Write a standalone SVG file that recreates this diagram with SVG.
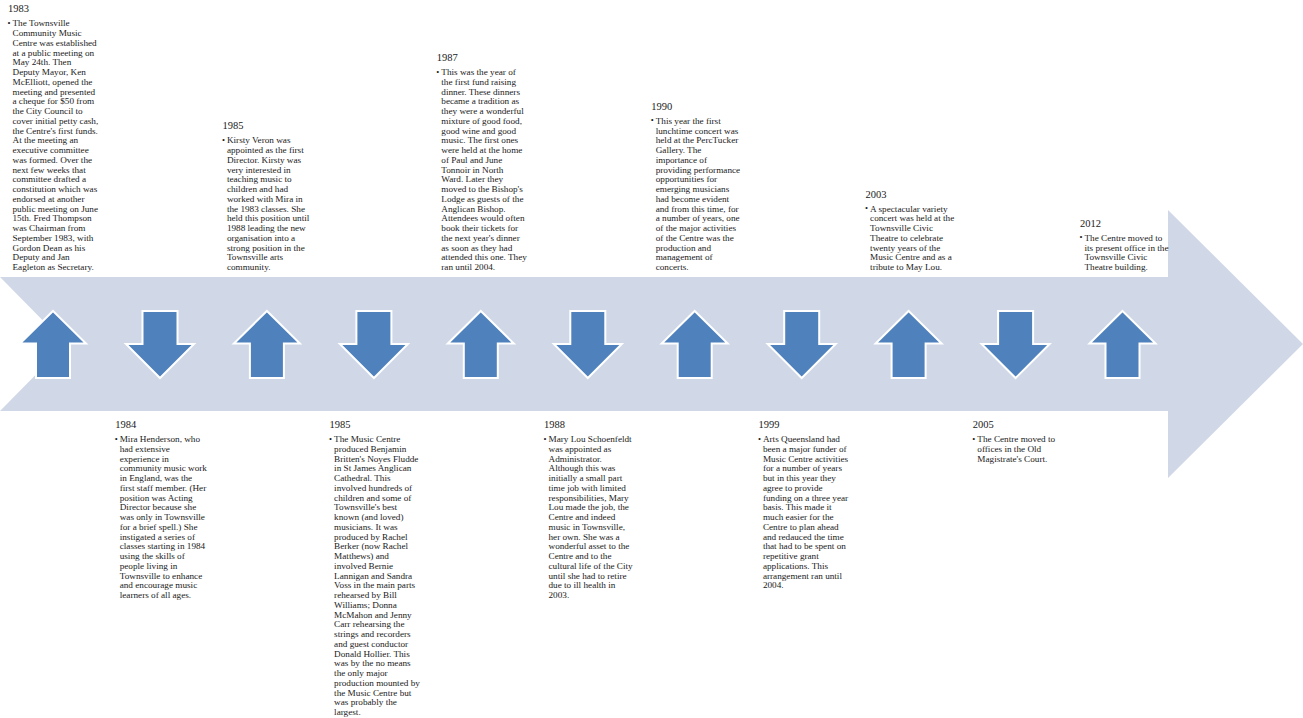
<svg xmlns="http://www.w3.org/2000/svg" xmlns:xlink="http://www.w3.org/1999/xlink" width="1303" height="718" viewBox="0 0 1303 718">
<style>
.h{font-family:"Liberation Serif","Times New Roman",serif;font-size:10.5px;fill:#1a1a1a}
.t{font-family:"Liberation Serif","Times New Roman",serif;font-size:9.2px;fill:#1a1a1a}
.b{font-family:"Liberation Serif","Times New Roman",serif;font-size:8.5px;fill:#1a1a1a}
.ar{fill:#4F81BD;stroke:#ffffff;stroke-width:2;stroke-linejoin:miter}
</style>
<defs>
<path id="up" class="ar" d="M0,311 L33,343.5 L17,343.5 L17,378 L-17,378 L-17,343.5 L-33,343.5 Z"/>
<path id="down" class="ar" d="M-17.5,311 L17.5,311 L17.5,344 L34,344 L0,378 L-34,344 L-17.5,344 Z"/>
</defs>
<rect width="1303" height="718" fill="#ffffff"/>
<g id="connectors">
<polygon id="timeline" points="0,277 1168,277 1168,210 1303,344 1168,478 1168,411 0,411 66,344" fill="#D0D8E8"/>
</g>

<g id="n1983">
<use xlink:href="#up" x="53"/>
<text class="h" x="8" y="12.25">1983</text>
<text class="b" x="7.5" y="25.75">•</text>
<text class="t" x="12.5" y="26.25"><tspan x="12.5">The Townsville</tspan><tspan x="12.5" dy="9.75">Community Music</tspan><tspan x="12.5" dy="9.75">Centre was established</tspan><tspan x="12.5" dy="9.75">at a public meeting on</tspan><tspan x="12.5" dy="9.75">May 24th. Then</tspan><tspan x="12.5" dy="9.75">Deputy Mayor, Ken</tspan><tspan x="12.5" dy="9.75">McElliott, opened the</tspan><tspan x="12.5" dy="9.75">meeting and presented</tspan><tspan x="12.5" dy="9.75">a cheque for $50 from</tspan><tspan x="12.5" dy="9.75">the City Council to</tspan><tspan x="12.5" dy="9.75">cover initial petty cash,</tspan><tspan x="12.5" dy="9.75">the Centre's first funds.</tspan><tspan x="12.5" dy="9.75">At the meeting an</tspan><tspan x="12.5" dy="9.75">executive committee</tspan><tspan x="12.5" dy="9.75">was formed. Over the</tspan><tspan x="12.5" dy="9.75">next few weeks that</tspan><tspan x="12.5" dy="9.75">committee drafted a</tspan><tspan x="12.5" dy="9.75">constitution which was</tspan><tspan x="12.5" dy="9.75">endorsed at another</tspan><tspan x="12.5" dy="9.75">public meeting on June</tspan><tspan x="12.5" dy="9.75">15th. Fred Thompson</tspan><tspan x="12.5" dy="9.75">was Chairman from</tspan><tspan x="12.5" dy="9.75">September 1983, with</tspan><tspan x="12.5" dy="9.75">Gordon Dean as his</tspan><tspan x="12.5" dy="9.75">Deputy and Jan</tspan><tspan x="12.5" dy="9.75">Eagleton as Secretary.</tspan></text>
</g>

<g id="n1984">
<use xlink:href="#down" x="160"/>
<text class="h" x="115.2" y="428">1984</text>
<text class="b" x="114.7" y="441.5">•</text>
<text class="t" x="119.7" y="442"><tspan x="119.7">Mira Henderson, who</tspan><tspan x="119.7" dy="9.75">had extensive</tspan><tspan x="119.7" dy="9.75">experience in</tspan><tspan x="119.7" dy="9.75">community music work</tspan><tspan x="119.7" dy="9.75">in England, was the</tspan><tspan x="119.7" dy="9.75">first staff member. (Her</tspan><tspan x="119.7" dy="9.75">position was Acting</tspan><tspan x="119.7" dy="9.75">Director because she</tspan><tspan x="119.7" dy="9.75">was only in Townsville</tspan><tspan x="119.7" dy="9.75">for a brief spell.) She</tspan><tspan x="119.7" dy="9.75">instigated a series of</tspan><tspan x="119.7" dy="9.75">classes starting in 1984</tspan><tspan x="119.7" dy="9.75">using the skills of</tspan><tspan x="119.7" dy="9.75">people living in</tspan><tspan x="119.7" dy="9.75">Townsville to enhance</tspan><tspan x="119.7" dy="9.75">and encourage music</tspan><tspan x="119.7" dy="9.75">learners of all ages.</tspan></text>
</g>

<g id="n1985a">
<use xlink:href="#up" x="266.9"/>
<text class="h" x="222.4" y="129.25">1985</text>
<text class="b" x="221.9" y="142.75">•</text>
<text class="t" x="226.9" y="143.25"><tspan x="226.9">Kirsty Veron was</tspan><tspan x="226.9" dy="9.75">appointed as the first</tspan><tspan x="226.9" dy="9.75">Director. Kirsty was</tspan><tspan x="226.9" dy="9.75">very interested in</tspan><tspan x="226.9" dy="9.75">teaching music to</tspan><tspan x="226.9" dy="9.75">children and had</tspan><tspan x="226.9" dy="9.75">worked with Mira in</tspan><tspan x="226.9" dy="9.75">the 1983 classes. She</tspan><tspan x="226.9" dy="9.75">held this position until</tspan><tspan x="226.9" dy="9.75">1988 leading the new</tspan><tspan x="226.9" dy="9.75">organisation into a</tspan><tspan x="226.9" dy="9.75">strong position in the</tspan><tspan x="226.9" dy="9.75">Townsville arts</tspan><tspan x="226.9" dy="9.75">community.</tspan></text>
</g>

<g id="n1985b">
<use xlink:href="#down" x="373.9"/>
<text class="h" x="329.6" y="428">1985</text>
<text class="b" x="329.1" y="441.5">•</text>
<text class="t" x="334.1" y="442"><tspan x="334.1">The Music Centre</tspan><tspan x="334.1" dy="9.75">produced Benjamin</tspan><tspan x="334.1" dy="9.75">Britten's Noyes Fludde</tspan><tspan x="334.1" dy="9.75">in St James Anglican</tspan><tspan x="334.1" dy="9.75">Cathedral. This</tspan><tspan x="334.1" dy="9.75">involved hundreds of</tspan><tspan x="334.1" dy="9.75">children and some of</tspan><tspan x="334.1" dy="9.75">Townsville's best</tspan><tspan x="334.1" dy="9.75">known (and loved)</tspan><tspan x="334.1" dy="9.75">musicians. It was</tspan><tspan x="334.1" dy="9.75">produced by Rachel</tspan><tspan x="334.1" dy="9.75">Berker (now Rachel</tspan><tspan x="334.1" dy="9.75">Matthews) and</tspan><tspan x="334.1" dy="9.75">involved Bernie</tspan><tspan x="334.1" dy="9.75">Lannigan and Sandra</tspan><tspan x="334.1" dy="9.75">Voss in the main parts</tspan><tspan x="334.1" dy="9.75">rehearsed by Bill</tspan><tspan x="334.1" dy="9.75">Williams; Donna</tspan><tspan x="334.1" dy="9.75">McMahon and Jenny</tspan><tspan x="334.1" dy="9.75">Carr rehearsing the</tspan><tspan x="334.1" dy="9.75">strings and recorders</tspan><tspan x="334.1" dy="9.75">and guest conductor</tspan><tspan x="334.1" dy="9.75">Donald Hollier. This</tspan><tspan x="334.1" dy="9.75">was by the no means</tspan><tspan x="334.1" dy="9.75">the only major</tspan><tspan x="334.1" dy="9.75">production mounted by</tspan><tspan x="334.1" dy="9.75">the Music Centre but</tspan><tspan x="334.1" dy="9.75">was probably the</tspan><tspan x="334.1" dy="9.75">largest.</tspan></text>
</g>

<g id="n1987">
<use xlink:href="#up" x="480.8"/>
<text class="h" x="436.8" y="61">1987</text>
<text class="b" x="436.3" y="74.5">•</text>
<text class="t" x="441.3" y="75"><tspan x="441.3">This was the year of</tspan><tspan x="441.3" dy="9.75">the first fund raising</tspan><tspan x="441.3" dy="9.75">dinner. These dinners</tspan><tspan x="441.3" dy="9.75">became a tradition as</tspan><tspan x="441.3" dy="9.75">they were a wonderful</tspan><tspan x="441.3" dy="9.75">mixture of good food,</tspan><tspan x="441.3" dy="9.75">good wine and good</tspan><tspan x="441.3" dy="9.75">music. The first ones</tspan><tspan x="441.3" dy="9.75">were held at the home</tspan><tspan x="441.3" dy="9.75">of Paul and June</tspan><tspan x="441.3" dy="9.75">Tonnoir in North</tspan><tspan x="441.3" dy="9.75">Ward. Later they</tspan><tspan x="441.3" dy="9.75">moved to the Bishop's</tspan><tspan x="441.3" dy="9.75">Lodge as guests of the</tspan><tspan x="441.3" dy="9.75">Anglican Bishop.</tspan><tspan x="441.3" dy="9.75">Attendees would often</tspan><tspan x="441.3" dy="9.75">book their tickets for</tspan><tspan x="441.3" dy="9.75">the next year's dinner</tspan><tspan x="441.3" dy="9.75">as soon as they had</tspan><tspan x="441.3" dy="9.75">attended this one. They</tspan><tspan x="441.3" dy="9.75">ran until 2004.</tspan></text>
</g>

<g id="n1988">
<use xlink:href="#down" x="587.8"/>
<text class="h" x="544" y="428">1988</text>
<text class="b" x="543.5" y="441.5">•</text>
<text class="t" x="548.5" y="442"><tspan x="548.5">Mary Lou Schoenfeldt</tspan><tspan x="548.5" dy="9.75">was appointed as</tspan><tspan x="548.5" dy="9.75">Administrator.</tspan><tspan x="548.5" dy="9.75">Although this was</tspan><tspan x="548.5" dy="9.75">initially a small part</tspan><tspan x="548.5" dy="9.75">time job with limited</tspan><tspan x="548.5" dy="9.75">responsibilities, Mary</tspan><tspan x="548.5" dy="9.75">Lou made the job, the</tspan><tspan x="548.5" dy="9.75">Centre and indeed</tspan><tspan x="548.5" dy="9.75">music in Townsville,</tspan><tspan x="548.5" dy="9.75">her own. She was a</tspan><tspan x="548.5" dy="9.75">wonderful asset to the</tspan><tspan x="548.5" dy="9.75">Centre and to the</tspan><tspan x="548.5" dy="9.75">cultural life of the City</tspan><tspan x="548.5" dy="9.75">until she had to retire</tspan><tspan x="548.5" dy="9.75">due to ill health in</tspan><tspan x="548.5" dy="9.75">2003.</tspan></text>
</g>

<g id="n1990">
<use xlink:href="#up" x="694.7"/>
<text class="h" x="651.2" y="109.75">1990</text>
<text class="b" x="650.7" y="123.25">•</text>
<text class="t" x="655.7" y="123.75"><tspan x="655.7">This year the first</tspan><tspan x="655.7" dy="9.75">lunchtime concert was</tspan><tspan x="655.7" dy="9.75">held at the PercTucker</tspan><tspan x="655.7" dy="9.75">Gallery. The</tspan><tspan x="655.7" dy="9.75">importance of</tspan><tspan x="655.7" dy="9.75">providing performance</tspan><tspan x="655.7" dy="9.75">opportunities for</tspan><tspan x="655.7" dy="9.75">emerging musicians</tspan><tspan x="655.7" dy="9.75">had become evident</tspan><tspan x="655.7" dy="9.75">and from this time, for</tspan><tspan x="655.7" dy="9.75">a number of years, one</tspan><tspan x="655.7" dy="9.75">of the major activities</tspan><tspan x="655.7" dy="9.75">of the Centre was the</tspan><tspan x="655.7" dy="9.75">production and</tspan><tspan x="655.7" dy="9.75">management of</tspan><tspan x="655.7" dy="9.75">concerts.</tspan></text>
</g>

<g id="n1999">
<use xlink:href="#down" x="801.7"/>
<text class="h" x="758.4" y="428">1999</text>
<text class="b" x="757.9" y="441.5">•</text>
<text class="t" x="762.9" y="442"><tspan x="762.9">Arts Queensland had</tspan><tspan x="762.9" dy="9.75">been a major funder of</tspan><tspan x="762.9" dy="9.75">Music Centre activities</tspan><tspan x="762.9" dy="9.75">for a number of years</tspan><tspan x="762.9" dy="9.75">but in this year they</tspan><tspan x="762.9" dy="9.75">agree to provide</tspan><tspan x="762.9" dy="9.75">funding on a three year</tspan><tspan x="762.9" dy="9.75">basis. This made it</tspan><tspan x="762.9" dy="9.75">much easier for the</tspan><tspan x="762.9" dy="9.75">Centre to plan ahead</tspan><tspan x="762.9" dy="9.75">and redauced the time</tspan><tspan x="762.9" dy="9.75">that had to be spent on</tspan><tspan x="762.9" dy="9.75">repetitive grant</tspan><tspan x="762.9" dy="9.75">applications. This</tspan><tspan x="762.9" dy="9.75">arrangement ran until</tspan><tspan x="762.9" dy="9.75">2004.</tspan></text>
</g>

<g id="n2003">
<use xlink:href="#up" x="908.6"/>
<text class="h" x="865.6" y="197.5">2003</text>
<text class="b" x="865.1" y="211">•</text>
<text class="t" x="870.1" y="211.5"><tspan x="870.1">A spectacular variety</tspan><tspan x="870.1" dy="9.75">concert was held at the</tspan><tspan x="870.1" dy="9.75">Townsville Civic</tspan><tspan x="870.1" dy="9.75">Theatre to celebrate</tspan><tspan x="870.1" dy="9.75">twenty years of the</tspan><tspan x="870.1" dy="9.75">Music Centre and as a</tspan><tspan x="870.1" dy="9.75">tribute to May Lou.</tspan></text>
</g>

<g id="n2005">
<use xlink:href="#down" x="1015.6"/>
<text class="h" x="972.8" y="428">2005</text>
<text class="b" x="972.3" y="441.5">•</text>
<text class="t" x="977.3" y="442"><tspan x="977.3">The Centre moved to</tspan><tspan x="977.3" dy="9.75">offices in the Old</tspan><tspan x="977.3" dy="9.75">Magistrate's Court.</tspan></text>
</g>

<g id="n2012">
<use xlink:href="#up" x="1122.5"/>
<text class="h" x="1080" y="226.75">2012</text>
<text class="b" x="1079.5" y="240.25">•</text>
<text class="t" x="1084.5" y="240.75"><tspan x="1084.5">The Centre moved to</tspan><tspan x="1084.5" dy="9.75">its present office in the</tspan><tspan x="1084.5" dy="9.75">Townsville Civic</tspan><tspan x="1084.5" dy="9.75">Theatre building.</tspan></text>
</g>
</svg>
